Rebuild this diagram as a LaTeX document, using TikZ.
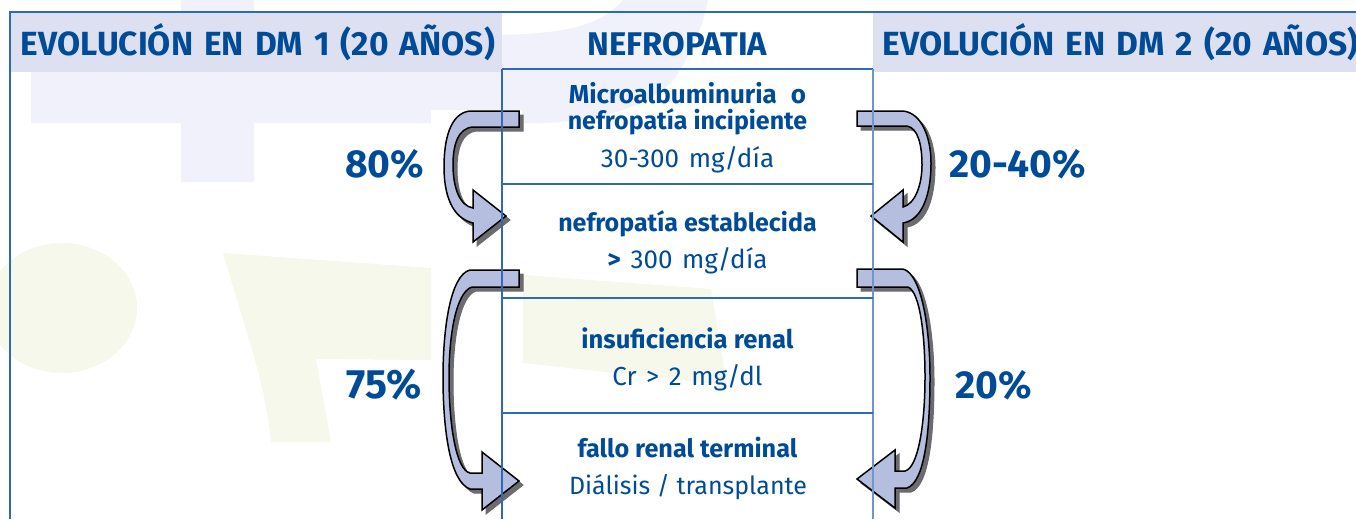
\documentclass[tikz,border=0pt]{standalone}
\usepackage{fontspec}
\setmainfont{Fira Sans}
\newfontfamily\widefont[WordSpace=1.85]{Fira Sans}
\newfontfamily\midfont[WordSpace=1.4]{Fira Sans}
\definecolor{txt}{HTML}{004B98}
\definecolor{rule}{HTML}{2E6BB4}
\definecolor{band}{HTML}{DDE0F1}
\definecolor{lav}{HTML}{F0F1FA}
\definecolor{grn}{HTML}{F5F8EA}
\definecolor{arrowfill}{HTML}{B5BEDF}
\definecolor{shade}{HTML}{6C6C70}
\tikzset{
 x=1pt,y=-1pt,
 head/.style={anchor=base,inner sep=0pt,text=txt,font=\widefont\fontsize{33.5}{34}\selectfont\bfseries},
 pct/.style={anchor=base,inner sep=0pt,text=txt,font=\fontsize{39}{39}\selectfont\bfseries},
 bold/.style={anchor=base,inner sep=0pt,text=txt,font=\fontsize{25}{25}\selectfont\bfseries},
 plain/.style={anchor=base,inner sep=0pt,text=txt,font=\midfont\fontsize{26}{26}\selectfont},
 rulel/.style={draw=rule,line width=1.1pt},
 arrowshadow/.style={fill=shade,draw=shade,line width=1pt},
 arrowbody/.style={fill=arrowfill,draw=black,line width=1.5pt,line join=miter},
}
\newcommand{\arrA}{(519,111) -- (470,111) .. controls (450,113) and (444,140) .. (444,167) .. controls (444,195) and (452,218) .. (473,223) -- (473,242) -- (506,216) -- (473,190) -- (473,208) .. controls (460,206) and (453,188) .. (453,165) .. controls (453,145) and (458,128) .. (473,127) -- (519,127) -- cycle}
\newcommand{\arrB}{(857,111) -- (903,111) .. controls (922,113) and (931,138) .. (931,163) .. controls (931,195) and (922,220) .. (903,223) -- (903,242) -- (871,216) -- (903,190) -- (903,207) .. controls (915,204) and (922,185) .. (922,165) .. controls (922,145) and (918,128) .. (907,126) -- (857,126) -- cycle}
\newcommand{\arrC}{(519,270) -- (470,270) .. controls (450,275) and (443,330) .. (443,377) .. controls (443,430) and (450,482) .. (470,489) -- (482,489) -- (482,510) -- (519,481) -- (482,452) -- (482,473) -- (470,473) .. controls (456,470) and (449,425) .. (449,377) .. controls (449,335) and (456,292) .. (472,287) -- (519,287) -- cycle}
\newcommand{\arrD}{(857,269) -- (903,269) .. controls (922,274) and (930,330) .. (930,377) .. controls (930,430) and (925,482) .. (907,488) -- (895,488) -- (895,508) -- (857,479) -- (895,450) -- (895,471) -- (905,471) .. controls (918,468) and (925,425) .. (925,377) .. controls (925,335) and (920,292) .. (908,287) -- (857,287) -- cycle}
\begin{document}
\begin{tikzpicture}
\useasboundingbox (0,0) rectangle (1356,519);
\begin{scope}
\clip (0,0) rectangle (1356,519);
% watermark
\fill[lav] (181,0) -- (254,0) -- (254,72) -- (431,72) -- (431,123) -- (254,123) -- (254,182) -- (181,182) -- (181,123) -- (31,123) -- (31,60) -- (181,60) -- cycle;
\fill[lav] (623,0) .. controls (600,25) and (570,33) .. (502,35) -- (430,35) -- (430,110) -- (522,110) -- (522,123) -- (537,123) .. controls (610,122) and (665,100) .. (680,70) .. controls (695,45) and (703,25) .. (708,0) -- cycle;
\fill[grn] (62,308) ellipse[x radius=75,y radius=65];
\fill[grn] (223,253) -- (431,268) -- (431,360) -- (316,359) -- (331,442) -- (271,442) .. controls (265,380) and (245,330) .. (223,253) -- cycle;
\fill[grn] (523,275) -- (711,289) -- (727,385) -- (523,363) -- cycle;
% header bands
\fill[band] (10,12) rectangle (502,72);
\fill[band] (873,12) rectangle (1356,72);
% arrows
\foreach \a in {\arrA,\arrB,\arrC,\arrD}{
  \fill[arrowshadow,shift={(4,4)}] \a;
}
\foreach \a in {\arrA,\arrB,\arrC,\arrD}{
  \filldraw[arrowbody] \a;
}
% table rules
\coordinate (tl) at (10,12);
\coordinate (tr) at (1356,12);
\coordinate (bl) at (10,519);
\coordinate (cl) at (502,69);
\coordinate (cr) at (873,69);
\coordinate (cbl) at (502,519);
\coordinate (cbr) at (873,519);
\draw[rulel] (bl) -- (tl) -- (tr);
\draw[rulel] (cl) -- (cr);
\draw[rulel] (cl) -- (cbl);
\draw[rulel,draw=rule!70] (cr) -- (cbr);
\coordinate (r1l) at (502,184); \coordinate (r1r) at (873,184);
\coordinate (r2l) at (502,298); \coordinate (r2r) at (873,298);
\coordinate (r3l) at (502,413); \coordinate (r3r) at (873,413);
\draw[rulel] (r1l) -- (r1r);
\draw[rulel] (r2l) -- (r2r);
\draw[rulel] (r3l) -- (r3r);
% text
\node[head] (h1) at (258,56) {EVOLUCIÓN EN DM 1 (20 AÑOS)};
\node[head,font=\fontsize{32.8}{33}\selectfont\bfseries] (h2) at (677.5,56) {NEFROPATIA};
\node[head] (h3) at (1120.5,56) {EVOLUCIÓN EN DM 2 (20 AÑOS)};
\node[bold] (t1) at (687.5,103) {\fontsize{26}{26}\selectfont Microalbuminuria\hspace{14pt}o};
\node[bold] (t2) at (687.5,129) {nefropatía incipiente};
\node[plain] (t3) at (687.5,167) {30-300 mg/día};
\node[bold] (t4) at (687.5,231) {nefropatía establecida};
\node[plain] (t5) at (687.5,268) {\textbf{>} 300 mg/día};
\node[bold,font=\fontsize{25.6}{26}\selectfont\bfseries] (t6) at (687.5,348) {insuficiencia renal};
\node[plain] (t7) at (687.5,385) {Cr > 2 mg/dl};
\node[bold,font=\fontsize{25.2}{26}\selectfont\bfseries] (t8) at (687.5,457) {fallo renal terminal};
\node[plain,font=\fontsize{25}{26}\selectfont] (t9) at (688,494) {Diálisis / transplante};
\node[pct] (p1) at (384.5,177) {80\%};
\node[pct] (p2) at (1017.5,177) {20-40\%};
\node[pct,font=\fontsize{41}{41}\selectfont\bfseries] (p3) at (384.5,398) {75\%};
\node[pct] (p4) at (993.5,398) {20\%};
\end{scope}
\end{tikzpicture}
\end{document}
